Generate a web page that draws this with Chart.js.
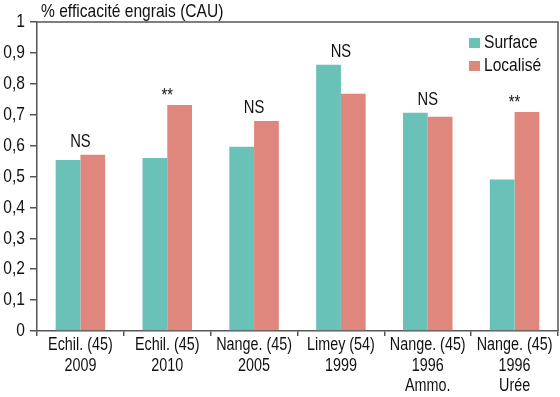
<!DOCTYPE html>
<html><head><meta charset="utf-8">
<script src="https://cdn.jsdelivr.net/npm/chart.js@4/dist/chart.umd.min.js"></script>
<style>html,body{margin:0;padding:0;background:#fff}#w{width:560px;height:397px}</style>
</head><body><div id="w"><canvas id="c"></canvas></div>
<script>
const categories = [
  ['Echil. (45)', '2009'],
  ['Echil. (45)', '2010'],
  ['Nange. (45)', '2005'],
  ['Limey (54)', '1999'],
  ['Nange. (45)', '1996', 'Ammo.'],
  ['Nange. (45)', '1996', 'Urée']
];
const surface = [0.553, 0.560, 0.596, 0.862, 0.706, 0.490];
const localise = [0.570, 0.731, 0.680, 0.768, 0.693, 0.709];
const significance = ['NS', '**', 'NS', 'NS', 'NS', '**'];
const yTitle = '% efficacité engrais (CAU)';
const seriesNames = ['Surface', 'Localisé'];
const TEAL = '#69c1b8', SALMON = '#e0877d', AXIS = '#555';
const FONT = '"Liberation Sans", Arial, sans-serif';

// Narrow rendering of Liberation Sans (horizontal compression, like Arial Narrow)
(function () {
  const SX = 0.82;
  const P = CanvasRenderingContext2D.prototype;
  const om = P.measureText, of = P.fillText;
  const narrow = c => c.font.indexOf('Liberation Sans') >= 0;
  P.measureText = function (t) {
    const m = om.call(this, t);
    if (!narrow(this)) return m;
    return { width: m.width * SX, actualBoundingBoxAscent: m.actualBoundingBoxAscent,
      actualBoundingBoxDescent: m.actualBoundingBoxDescent,
      actualBoundingBoxLeft: m.actualBoundingBoxLeft * SX, actualBoundingBoxRight: m.actualBoundingBoxRight * SX,
      fontBoundingBoxAscent: m.fontBoundingBoxAscent, fontBoundingBoxDescent: m.fontBoundingBoxDescent };
  };
  P.fillText = function (t, x, y, mw) {
    if (!narrow(this)) { return mw === undefined ? of.call(this, t, x, y) : of.call(this, t, x, y, mw); }
    this.save(); this.translate(x, y); this.scale(SX, 1);
    if (mw === undefined) of.call(this, t, 0, 0); else of.call(this, t, 0, 0, mw / SX);
    this.restore();
  };
})();

const extras = {
  id: 'extras',
  afterDraw(chart) {
    const ctx = chart.ctx, a = chart.chartArea;
    const x = chart.scales.x, y = chart.scales.y;
    ctx.save();
    ctx.strokeStyle = AXIS; ctx.lineWidth = 1.5;
    ctx.beginPath();
    ctx.moveTo(a.left, a.top); ctx.lineTo(a.right, a.top); ctx.lineTo(a.right, a.bottom);
    ctx.stroke();
    ctx.fillStyle = '#111';
    ctx.font = '19px ' + FONT;
    ctx.textAlign = 'left'; ctx.textBaseline = 'alphabetic';
    ctx.fillText(yTitle, 41, 17);
    ctx.textAlign = 'center';
    significance.forEach((s, i) => {
      const m = Math.max(surface[i], localise[i]);
      const px = x.getPixelForValue(i);
      const py = y.getPixelForValue(m);
      ctx.font = '18px ' + FONT;
      ctx.fillText(s, px, s === '**' ? py - 4 : py - 8);
    });
    ctx.font = '19px ' + FONT; ctx.textAlign = 'left';
    [TEAL, SALMON].forEach((c, i) => {
      const base = 48 + i * 23;
      ctx.fillStyle = c; ctx.fillRect(469, base - 10, 11, 10);
      ctx.fillStyle = '#111'; ctx.fillText(seriesNames[i], 484, base);
    });
    ctx.restore();
  }
};

new Chart(document.getElementById('c'), {
  type: 'bar',
  data: {
    labels: categories,
    datasets: [
      { label: seriesNames[0], data: surface, backgroundColor: TEAL, categoryPercentage: 0.57, barPercentage: 1 },
      { label: seriesNames[1], data: localise, backgroundColor: SALMON, categoryPercentage: 0.57, barPercentage: 1 }
    ]
  },
  options: {
    responsive: true, maintainAspectRatio: false, animation: false,
    layout: { padding: { top: 22, right: 2, left: 0, bottom: 0 } },
    plugins: { legend: { display: false }, tooltip: { enabled: false } },
    scales: {
      x: {
        grid: { display: true, drawOnChartArea: false, drawTicks: true, tickLength: 5, offset: true, color: AXIS, lineWidth: 1.5 },
        border: { display: true, color: AXIS, width: 1.5 },
        ticks: { color: '#111', font: { family: FONT, size: 17.5, lineHeight: 1.17 }, maxRotation: 0, autoSkip: false, padding: -1 },
        afterFit(s) { s.height = 66; }
      },
      y: {
        min: 0, max: 1,
        grid: { display: true, drawOnChartArea: false, drawTicks: true, tickLength: 7, color: AXIS, lineWidth: 1.5 },
        border: { display: true, color: AXIS, width: 1.5 },
        ticks: { stepSize: 0.1, color: '#111', padding: 5, font: { family: FONT, size: 19 },
          callback: v => (Math.round(v * 10) / 10).toString().replace('.', ',') },
        afterFit(s) { s.width = 37; }
      }
    }
  },
  plugins: [extras]
});
</script></body></html>
